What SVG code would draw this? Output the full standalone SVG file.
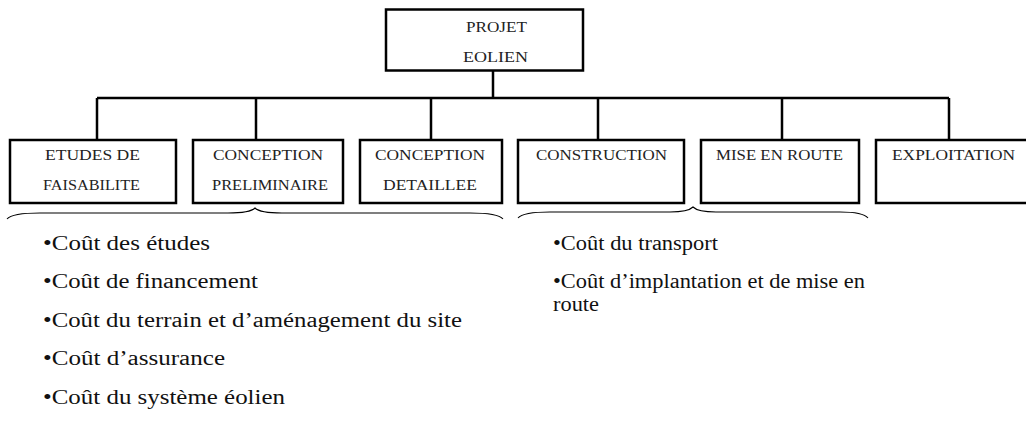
<svg xmlns="http://www.w3.org/2000/svg" width="1026" height="433" viewBox="0 0 1026 433">
<style>
.box{fill:#fff;stroke:#000;stroke-width:2.5}
.conn{fill:none;stroke:#000;stroke-width:2.5}
.brace{fill:none;stroke:#000;stroke-width:1.1}
.t{font-family:"Liberation Serif",serif;font-size:15px;fill:#222}
.b{font-family:"Liberation Serif",serif;font-size:20px;fill:#111}
</style>
<rect width="1026" height="433" fill="#fff"/>
<g id="connectors">
<path class="conn" d="M493,70.5V98M97,98H949M97,98V140M256,98V140M431,98V140M598,98V140M782,98V140M949,98V140"/>
</g>
<g id="root">
<rect class="box" x="386" y="9.5" width="197" height="61"/>
<text class="t" x="466" y="32" textLength="61" lengthAdjust="spacingAndGlyphs">PROJET</text>
<text class="t" x="463" y="62" textLength="65" lengthAdjust="spacingAndGlyphs">EOLIEN</text>
</g>
<g id="etudes">
<rect class="box" x="10" y="140" width="166" height="63"/>
<text class="t" x="45" y="160" textLength="95" lengthAdjust="spacingAndGlyphs">ETUDES DE</text>
<text class="t" x="43" y="190" textLength="97" lengthAdjust="spacingAndGlyphs">FAISABILITE</text>
</g>
<g id="conception-preliminaire">
<rect class="box" x="193" y="140" width="150" height="63"/>
<text class="t" x="213" y="160" textLength="110" lengthAdjust="spacingAndGlyphs">CONCEPTION</text>
<text class="t" x="212" y="190" textLength="116" lengthAdjust="spacingAndGlyphs">PRELIMINAIRE</text>
</g>
<g id="conception-detaillee">
<rect class="box" x="360" y="140" width="142" height="63"/>
<text class="t" x="375" y="160" textLength="110" lengthAdjust="spacingAndGlyphs">CONCEPTION</text>
<text class="t" x="383" y="190" textLength="94" lengthAdjust="spacingAndGlyphs">DETAILLEE</text>
</g>
<g id="construction">
<rect class="box" x="518" y="140" width="166" height="63"/>
<text class="t" x="536" y="160" textLength="131" lengthAdjust="spacingAndGlyphs">CONSTRUCTION</text>
</g>
<g id="mise-en-route">
<rect class="box" x="701" y="140" width="158" height="63"/>
<text class="t" x="716" y="160" textLength="127" lengthAdjust="spacingAndGlyphs">MISE EN ROUTE</text>
</g>
<g id="exploitation">
<rect class="box" x="876" y="140" width="160" height="63"/>
<text class="t" x="892" y="160" textLength="123" lengthAdjust="spacingAndGlyphs">EXPLOITATION</text>
</g>
<g id="brace-left">
<path class="brace" d="M7,219 Q12,213 40,213 L228,213 Q250,213 255,208 Q260,213 282,213 L470,213 Q498,213 503,219"/>
<text class="b" x="43" y="250" textLength="167" lengthAdjust="spacingAndGlyphs">•Coût des études</text>
<text class="b" x="43" y="288" textLength="215" lengthAdjust="spacingAndGlyphs">•Coût de financement</text>
<text class="b" x="43" y="327" textLength="419" lengthAdjust="spacingAndGlyphs">•Coût du terrain et d’aménagement du site</text>
<text class="b" x="43" y="365" textLength="182" lengthAdjust="spacingAndGlyphs">•Coût d’assurance</text>
<text class="b" x="43" y="404" textLength="242" lengthAdjust="spacingAndGlyphs">•Coût du système éolien</text>
</g>
<g id="brace-right">
<path class="brace" d="M518,218 Q523,212 550,212 L670,212 Q688,212 693,207 Q698,212 716,212 L840,212 Q863,212 868,218"/>
<text class="b" x="553" y="250" textLength="165" lengthAdjust="spacingAndGlyphs">•Coût du transport</text>
<text class="b" x="553" y="288" textLength="312" lengthAdjust="spacingAndGlyphs">•Coût d’implantation et de mise en</text>
<text class="b" x="553" y="311" textLength="46" lengthAdjust="spacingAndGlyphs">route</text>
</g>
</svg>
